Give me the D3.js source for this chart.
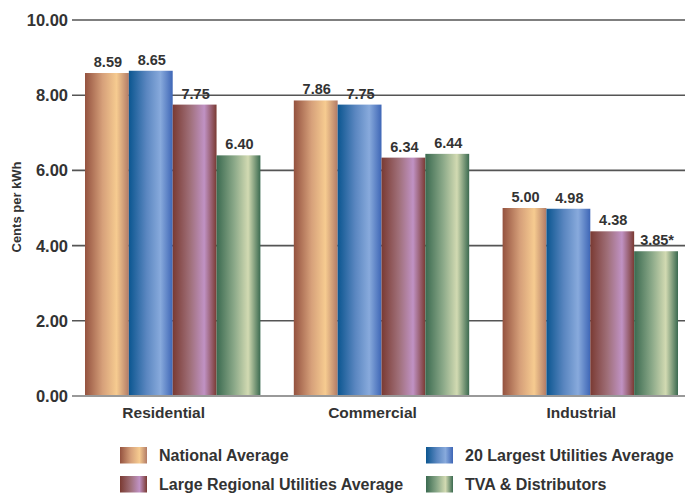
<!DOCTYPE html>
<html><head><meta charset="utf-8">
<script src="https://cdn.jsdelivr.net/npm/d3@7"></script>
<style>body{margin:0;background:#fff;}svg{display:block;font-family:"Liberation Sans",Arial,sans-serif;}</style>
</head><body><svg id="c" width="685" height="494"></svg>
<script>
const categories = ["Residential", "Commercial", "Industrial"];
const seriesNames = ["National Average", "20 Largest Utilities Average", "Large Regional Utilities Average", "TVA & Distributors"];
const nationalAverage = [8.59, 7.86, 5.00];
const largest20Average = [8.65, 7.75, 4.98];
const largeRegionalAverage = [7.75, 6.34, 4.38];
const tvaDistributors = [6.40, 6.44, 3.85];
const valueLabels = [["8.59","7.86","5.00"],["8.65","7.75","4.98"],["7.75","6.34","4.38"],["6.40","6.44","3.85*"]];
const yTicks = [0, 2, 4, 6, 8, 10];
const yTickLabels = ["0.00", "2.00", "4.00", "6.00", "8.00", "10.00"];

const series = [nationalAverage, largest20Average, largeRegionalAverage, tvaDistributors];
const gradStops = [
  ["#94523f", "#d6a07a", "#f6cb90", "#b27b66"],
  ["#0b5690", "#5a86c0", "#88aadc", "#3e66b6"],
  ["#7a3a32", "#a0707a", "#c092c4", "#7a3a32"],
  ["#3b6a50", "#8aa888", "#d2dab2", "#3b6a50"]
];

const svg = d3.select("#c");
const defs = svg.append("defs");
gradStops.forEach((s, i) => {
  const g = defs.append("linearGradient").attr("id", "g" + i).attr("x1", "0").attr("x2", "1").attr("y1", "0").attr("y2", "0");
  [0, 0.4, 0.72, 1].forEach((o, j) => g.append("stop").attr("offset", o).attr("stop-color", s[j]));
});

const y = d3.scaleLinear().domain([0, 10]).range([396, 20]);
const x0 = d3.scaleBand().domain(categories).range([85, 678]).paddingInner(0.16);
const x1 = d3.scaleBand().domain(d3.range(4)).range([0, x0.bandwidth()]);

// grid
const grid = svg.append("g");
yTicks.forEach((t, i) => {
  grid.append("line").attr("x1", 72).attr("x2", 685).attr("y1", y(t)).attr("y2", y(t))
    .attr("stroke", t === 0 ? "#777" : "#555").attr("stroke-width", 1.6);
  grid.append("text").attr("x", 68).attr("y", y(t)).attr("dy", "0.36em").attr("text-anchor", "end")
    .attr("font-size", 16.5).attr("font-weight", "bold").attr("fill", "#333").text(yTickLabels[i]);
});

svg.append("text").attr("transform", "translate(21,207) rotate(-90)").attr("text-anchor", "middle")
  .attr("font-size", 13).attr("font-weight", "bold").attr("fill", "#333").text("Cents per kWh");

// bars
categories.forEach((c, ci) => {
  series.forEach((s, si) => {
    const bx = x0(c) + x1(si);
    svg.append("rect").attr("x", bx).attr("y", y(s[ci])).attr("width", x1.bandwidth()).attr("height", y(0) - y(s[ci]) - 1)
      .attr("fill", `url(#g${si})`);
    svg.append("text").attr("x", bx + x1.bandwidth() / 2 + 1).attr("y", y(s[ci]) - 6).attr("text-anchor", "middle")
      .attr("font-size", 14.5).attr("font-weight", "bold").attr("fill", "#333").text(valueLabels[si][ci]);
  });
  svg.append("text").attr("x", x0(c) + x0.bandwidth() / 2 - 9).attr("y", 418).attr("text-anchor", "middle")
    .attr("font-size", 15.5).attr("font-weight", "bold").attr("fill", "#333").text(c);
});

// legend
const legendPos = [[120, 447], [426, 447], [120, 476], [426, 476]];
seriesNames.forEach((n, i) => {
  const [lx, ly] = legendPos[i];
  svg.append("rect").attr("x", lx).attr("y", ly).attr("width", 27).attr("height", 16.5).attr("fill", `url(#g${i})`);
  svg.append("text").attr("x", lx + 39).attr("y", ly + 8.5).attr("dy", "0.36em")
    .attr("font-size", 16).attr("font-weight", "bold").attr("fill", "#333").text(n);
});
</script></body></html>
